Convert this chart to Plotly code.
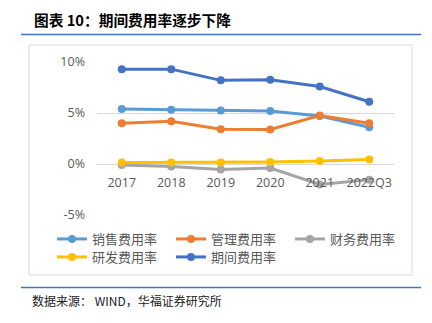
import plotly.graph_objects as go

# Expense ratios (%) by period
categories = ["2017", "2018", "2019", "2020", "2021", "2022Q3"]
sales_ratio = [5.4, 5.33, 5.25, 5.2, 4.7, 3.6]
admin_ratio = [4.0, 4.2, 3.4, 3.38, 4.75, 4.0]
finance_ratio = [-0.1, -0.25, -0.55, -0.4, -2.0, -1.55]
rnd_ratio = [0.15, 0.15, 0.15, 0.2, 0.3, 0.45]
period_ratio = [9.3, 9.3, 8.2, 8.25, 7.6, 6.1]

y_tick_vals = [-5, 0, 5, 10]
y_tick_text = ["-5%", "0%", "5%", "10%"]

# (name, values, colour, legend row)
series = [
    ("销售费用率", sales_ratio, "#5B9BD5", "legend"),
    ("管理费用率", admin_ratio, "#ED7D31", "legend"),
    ("财务费用率", finance_ratio, "#A5A5A5", "legend"),
    ("研发费用率", rnd_ratio, "#FFC000", "legend2"),
    ("期间费用率", period_ratio, "#4472C4", "legend2"),
]

W, H = 432, 323
ML, MR, MT, MB = 97, 38, 62, 108
PW, PH = W - ML - MR, H - MT - MB


def fx(px):
    return (px - ML) / PW


def fy(py):
    return (H - MB - py) / PH


fig = go.Figure()
for name, vals, color, leg in series:
    fig.add_trace(go.Scatter(
        x=categories, y=vals, name=name, mode="lines+markers",
        line=dict(color=color, width=3),
        marker=dict(color=color, size=8),
        legend=leg,
    ))

axis_font = dict(family="Open Sans, Liberation Sans, sans-serif", size=12.5, color="#595959")
legend_common = dict(
    orientation="h", xanchor="left", yanchor="middle",
    entrywidth=74, entrywidthmode="pixels",
    font=dict(family="Noto Sans CJK SC", size=13, color="#595959"),
    bgcolor="rgba(0,0,0,0)", tracegroupgap=0,
)

fig.update_layout(
    width=W, height=H,
    margin=dict(l=ML, r=MR, t=MT, b=MB, autoexpand=False),
    paper_bgcolor="white", plot_bgcolor="white",
    showlegend=True,
    legend=dict(x=fx(52), y=fy(239), **legend_common),
    legend2=dict(x=fx(52), y=fy(257), **legend_common),
    xaxis=dict(
        type="category", range=[-0.5, 5.5], anchor="free", position=5 / 15,
        showgrid=False, showline=False, ticks="", zeroline=False,
        tickfont=axis_font, ticklabelstandoff=9,
    ),
    yaxis=dict(
        range=[-5, 10], tickvals=y_tick_vals, ticktext=y_tick_text,
        showgrid=True, gridcolor="#D9D9D9", gridwidth=1,
        zeroline=True, zerolinecolor="#D9D9D9", zerolinewidth=1,
        showline=False, ticks="", tickfont=axis_font, ticklabelstandoff=11,
    ),
)

shapes = [
    # outer chart frame
    dict(type="rect", xref="paper", yref="paper",
         x0=fx(29), x1=fx(412), y0=fy(275), y1=fy(45),
         line=dict(color="#D9D9D9", width=1), layer="below"),
    # header and footer rules
    dict(type="line", xref="paper", yref="paper",
         x0=fx(21), x1=fx(421), y0=fy(34.5), y1=fy(34.5),
         line=dict(color="#4472C4", width=1.5)),
    dict(type="line", xref="paper", yref="paper",
         x0=fx(21), x1=fx(421), y0=fy(287.5), y1=fy(287.5),
         line=dict(color="#4472C4", width=1.5)),
]
fig.update_layout(shapes=shapes)

fig.add_annotation(
    xref="paper", yref="paper", x=fx(32), y=fy(19),
    xanchor="left", yanchor="middle", showarrow=False,
    text="<b>图表 10：期间费用率逐步下降</b>",
    font=dict(family="Noto Sans CJK SC", size=14.7, color="#000000"),
)
fig.add_annotation(
    xref="paper", yref="paper", x=fx(30), y=fy(300),
    xanchor="left", yanchor="middle", showarrow=False,
    text="数据来源： WIND，华福证券研究所",
    font=dict(family="Noto Sans CJK SC", size=12, color="#222222"),
)

fig.write_html("out.html")
